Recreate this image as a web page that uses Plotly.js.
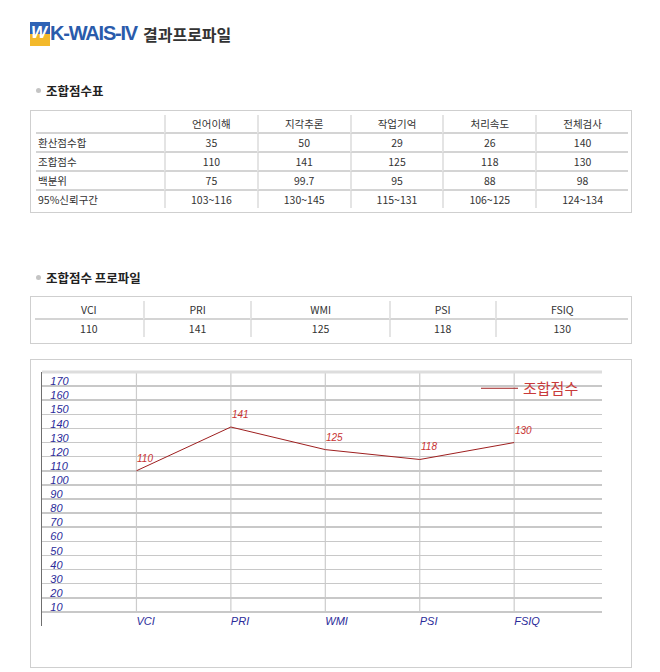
<!DOCTYPE html>
<html>
<head>
<meta charset="utf-8">
<script src="https://cdn.plot.ly/plotly-3.0.1.min.js"></script>
<style>
  body { margin: 0; background: #fff; font-family: "Noto Sans CJK KR", "Noto Sans", sans-serif; color: #333; }
  .page { position: relative; width: 660px; height: 672px; }
  .logo { position: absolute; left: 30px; top: 21px; height: 25px; display: flex; align-items: center; }
  .logo .icon { width: 20px; height: 24px; position: relative; overflow: hidden; }
  .logo .icon .top { position: absolute; left: 0; top: 0; width: 20px; height: 12px; background: #2f63b5; }
  .logo .icon .bot { position: absolute; left: 0; top: 12px; width: 20px; height: 12px; background: #f3b92b; }
  .logo .icon .w { position: absolute; left: 1px; top: 1px; font: italic bold 17px "Liberation Sans", sans-serif; color: #fff; letter-spacing: -2px; }
  .logo .brand { font: bold 20px "Liberation Sans", sans-serif; color: #2a5bab; letter-spacing: -1.2px; }
  .logo .title { font: bold 16px "Noto Sans CJK KR", sans-serif; color: #333; margin-left: 6px; }
  .sec { position: absolute; left: 36px; font: bold 12.5px "Noto Sans CJK KR", sans-serif; color: #222; display: flex; align-items: center; }
  .sec .dot { width: 5px; height: 5px; border-radius: 50%; background: #c4c4c4; margin-right: 5px; }
  .box { position: absolute; left: 30px; width: 602px; border: 1px solid #cfcfcf; box-sizing: border-box; background: #fff; }
  table { border-collapse: separate; border-spacing: 0; font-size: 10.5px; color: #333; }
  td { text-align: center; padding: 0; }
  .t1 { position: absolute; left: 5px; top: 4px; width: 592px; }
  .t1 td { height: 17px; border-bottom: 2px solid #d4d4d4; border-left: 2px solid #e4e4e4; }
  .t1 td:first-child { border-left: none; text-align: left; padding-left: 2px; }
  .t1 tr:last-child td { border-bottom: none; }
  .t2 { position: absolute; left: 4px; top: 4px; width: 593px; }
  .t2 td { height: 17px; border-bottom: 2px solid #d4d4d4; border-left: 2px solid #e4e4e4; }
  .t2 td:first-child { border-left: none; }
  .t2 tr:last-child td { border-bottom: none; }
  #chart { width: 600px; height: 307px; }
</style>
</head>
<body>
<div class="page">
  <div class="logo">
    <div class="icon"><div class="top"></div><div class="bot"></div><div class="w">W</div></div>
    <div class="brand">K-WAIS-IV</div>
    <div class="title">결과프로파일</div>
  </div>

  <div class="sec" style="top:81px;"><span class="dot"></span>조합점수표</div>
  <div class="box" style="top:110px; height:103px;">
    <table class="t1" id="t1"></table>
  </div>

  <div class="sec" style="top:268px;"><span class="dot"></span>조합점수 프로파일</div>
  <div class="box" style="top:296px; height:48px;">
    <table class="t2" id="t2"></table>
  </div>

  <div class="box" style="top:359px; height:309px;">
    <div id="chart"></div>
  </div>
</div>

<script>
// composite score table
const scaleNames = ['언어이해', '지각추론', '작업기억', '처리속도', '전체검사'];
const rowLabels = ['환산점수합', '조합점수', '백분위', '95%신뢰구간'];
const scaledSums = ['35', '50', '29', '26', '140'];
const compositeScores = ['110', '141', '125', '118', '130'];
const percentiles = ['75', '99.7', '95', '88', '98'];
const confIntervals = ['103~116', '130~145', '115~131', '106~125', '124~134'];

// profile chart
const indexCodes = ['VCI', 'PRI', 'WMI', 'PSI', 'FSIQ'];
const indexScores = [110, 141, 125, 118, 130];
const seriesName = '조합점수';
const yTicks = [10, 20, 30, 40, 50, 60, 70, 80, 90, 100, 110, 120, 130, 140, 150, 160, 170];
const yMax = 180;

// build the first table
const t1 = document.getElementById('t1');
let html = '<tr><td style="width:126px"></td>' + scaleNames.map((n) => `<td>${n}</td>`).join('') + '</tr>';
[scaledSums, compositeScores, percentiles, confIntervals].forEach((vals, i) => {
  html += `<tr><td>${rowLabels[i]}</td>` + vals.map((v) => `<td>${v}</td>`).join('') + '</tr>';
});
t1.innerHTML = html;

// second table: codes and scores
const t2 = document.getElementById('t2');
const t2Widths = [109, 107, 138, 105, 133];
t2.innerHTML = '<tr>' + indexCodes.map((c, i) => `<td style="width:${t2Widths[i]}px">${c}</td>`).join('') + '</tr>'
  + '<tr>' + indexScores.map((s) => `<td>${s}</td>`).join('') + '</tr>';

const axisFont = { family: 'Liberation Sans, Arial, sans-serif', size: 11, color: '#2b2b9a', style: 'italic' };
const labelFont = { family: 'Liberation Sans, Arial, sans-serif', size: 10, color: '#c83232', style: 'italic' };

const trace = {
  type: 'scatter',
  mode: 'lines',
  name: seriesName,
  x: indexCodes,
  y: indexScores,
  line: { color: '#9e1f1f', width: 1 },
};

// value labels sit just above-right of each point
const valueLabels = indexCodes.map((c, i) => ({
  x: c,
  y: indexScores[i],
  text: String(indexScores[i]),
  showarrow: false,
  xanchor: 'left',
  yanchor: 'bottom',
  xshift: -1,
  yshift: 5,
  font: labelFont,
}));

// category gridlines run from the lowest tick up to the top, leaving room for the labels
const categoryLines = indexCodes.map((c, i) => ({
  type: 'line', layer: 'below', xref: 'x', yref: 'y',
  x0: i, x1: i, y0: yTicks[0], y1: yMax,
  line: { color: '#cccccc', width: 1.2 },
}));

const layout = {
  width: 600,
  height: 307,
  margin: { l: 11, r: 29, t: 12, b: 41 },
  paper_bgcolor: '#fff',
  plot_bgcolor: '#fff',
  showlegend: true,
  legend: {
    x: 0.775, y: 1, xanchor: 'left', yanchor: 'top',
    itemwidth: 37,
    bgcolor: 'rgba(0,0,0,0)',
    font: { family: 'Noto Sans CJK KR, sans-serif', size: 15, color: '#c83a3a' },
  },
  xaxis: {
    type: 'category',
    range: [-1, 4.93],
    showgrid: false,
    zeroline: false,
    showline: false,
    ticks: '',
    ticklabelposition: 'inside right',
    ticklabeloverflow: 'allow',
    ticklabelstandoff: -7,
    tickfont: axisFont,
  },
  yaxis: {
    range: [0, yMax],
    tickvals: yTicks,
    ticktext: yTicks.map(String),
    showgrid: true,
    gridcolor: '#c8c8c8',
    gridwidth: 1.5,
    zeroline: false,
    showline: true,
    linecolor: '#6f6f6f',
    linewidth: 1,
    ticks: '',
    ticklabelposition: 'inside top',
    ticklabeloverflow: 'allow',
    ticklabelstandoff: 7,
    ticklabelshift: 3,
    tickfont: axisFont,
  },
  annotations: valueLabels,
  shapes: [
    ...categoryLines,
    // light frame line along the top of the grid
    { type: 'line', xref: 'paper', yref: 'paper', x0: 0, x1: 1, y0: 1, y1: 1, line: { color: '#dddddd', width: 3 } },
  ],
};

Plotly.newPlot('chart', [trace], layout, { displayModeBar: false, staticPlot: true });
</script>
</body>
</html>
